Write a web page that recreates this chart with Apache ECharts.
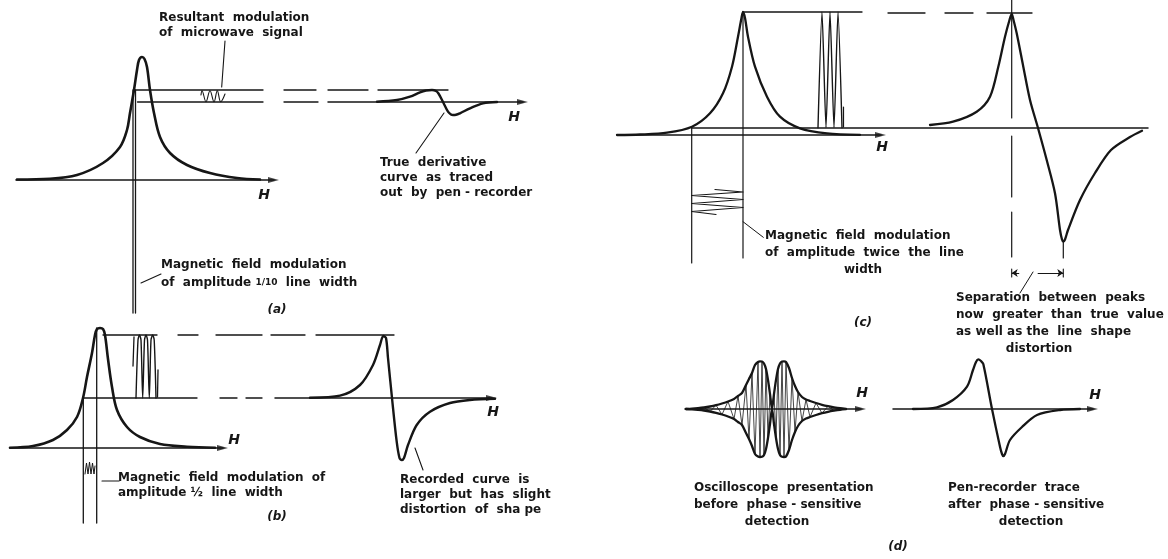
<!DOCTYPE html>
<html>
<head>
<meta charset="utf-8">
<script src="https://cdn.jsdelivr.net/npm/echarts@6/dist/echarts.min.js"></script>
<style>
  html, body { margin: 0; padding: 0; background: #fff; }
  #chart { width: 1168px; height: 559px; }
</style>
</head>
<body>
<div id="chart"></div>
<script>
// Units: field H and signal amplitude, both in arbitrary units; origin at line centre / baseline.

// ---------- (a) modulation amplitude 1/10 line width ----------
const axisA1 = [-12.6, 13.6];
const absA = [[-12.5,0.05],[-9.2,0.12],[-6.5,0.5],[-3.9,1.7],[-2.2,3.3],[-1.5,5.0],[-1.2,6.7],[-0.8,9.0],[-0.5,11.0],[-0.3,12.0],[0,12.3],[0.25,12.1],[0.5,11.3],[0.8,9.0],[1.2,6.7],[1.8,4.3],[2.8,2.7],[4.5,1.5],[6.8,0.7],[9.5,0.2],[11.8,0.05]];
const fieldA = [[-0.9, 9.0, -13.3], [-0.65, 9.0, -13.3]];          // [H, from, to]
const levelsA = [[9.0, -0.7, 12.1], [7.8, -0.45, 12.1]];            // [signal, H from, H to]
const ripplesA = [[5.9,8.5],[6.0,8.93],[6.4,7.83],[6.8,8.93],[7.2,7.83],[7.53,8.93],[7.87,7.83],[8.3,8.6]];
const resultantLeaderA = [[8.3,13.9],[7.97,9.3]];
const fieldLeaderA = [[-0.1,-10.3],[1.9,-9.4]];

const axisA2 = [-11.5, 8.4];
const derivA = [[-6.6,0.03],[-4.6,0.2],[-3.3,0.53],[-2.3,0.97],[-1.7,1.15],[-1.1,1.2],[-0.7,1.1],[-0.45,0.85],[0,0],[0.5,-0.97],[0.8,-1.25],[1.0,-1.3],[1.3,-1.28],[1.7,-1.13],[2.7,-0.63],[4.0,-0.13],[5.4,0]];
const levelA2 = 1.2;
const dashTopA = [[-15.9,-12.7],[-11.5,-7.5],[-6.5,0.5]];
const dashBaseA = [[-15.9,-12.5]];
const traceLeaderA = [[0.1,-1.1],[-2.7,-5.1]];

// ---------- (b) modulation amplitude 1/2 line width ----------
const axisB1 = [-9, 12.7];
const absB = [[-9,0.03],[-6.7,0.2],[-4.7,0.8],[-3.3,1.8],[-2.3,3.1],[-1.7,5.0],[-1.3,7.1],[-0.8,9.5],[-0.5,11.3],[-0.3,11.9],[0,12.0],[0.3,11.9],[0.5,11.3],[0.8,8.9],[1.2,6.1],[1.7,3.8],[2.7,2.1],[4.0,1.1],[6.0,0.4],[8.7,0.13],[11.5,0.02]];
const fieldB = [[-1.67, 5.0, -7.5], [-0.33, 12.0, -7.5]];
const levelsB = [[11.3, 0.3, 5.7], [5.0, -1.7, 9.7]];
const dashTopB = [[7.8,9.8],[11.6,16.2]];
const dashBaseB = [[12.0,13.7],[14.6,16.2]];
const loopsB = [[3.6,5.0],[3.8,10.8],[3.95,11.3],[4.1,10.8],[4.27,5.0],[4.45,10.8],[4.6,11.3],[4.75,10.8],[4.93,5.0],[5.1,10.8],[5.27,11.3],[5.42,10.8],[5.6,5.0]];
const loopStubsB = [[[3.3,8.2],[3.4,11.1]], [[5.75,5.1],[5.8,7.8]]];
const ripplesB = [[-1.5,-2.6],[-1.35,-1.5],[-1.2,-2.6],[-1.05,-1.4],[-0.9,-2.6],[-0.75,-1.5],[-0.6,-2.6],[-0.5,-1.8]];
const fieldLeaderB = [[0.2,-3.3],[1.9,-3.3]];

const axisB2 = [-11.7, 10.4];
const derivB = [[-8.2,0.03],[-5.2,0.23],[-3.2,1.3],[-1.9,3.3],[-1.2,5.3],[-0.87,6.2],[-0.6,6.0],[-0.4,4.0],[0,0],[0.47,-4.37],[0.75,-6.0],[0.97,-6.2],[1.2,-6.0],[1.6,-4.7],[2.47,-2.7],[3.8,-1.37],[5.8,-0.5],[7.8,-0.2],[10.3,-0.08]];
const levelB2 = 6.3;
const dashTopB2 = [[-12.1,-8.7],[-7.6,0.2]];
const recordedLeaderB = [[2.3,-5.0],[3.1,-7.2]];

// ---------- (c) modulation amplitude twice the line width ----------
const axisC1 = [-12.6, 14.2];
const absC = [[-12.6,0],[-10.3,0.05],[-7.6,0.23],[-5.1,0.83],[-3.3,2.17],[-2.0,4.17],[-1.1,6.83],[-0.5,9.83],[-0.15,11.7],[0,12.3],[0.2,11.7],[0.5,9.83],[1.2,6.83],[2.4,3.83],[3.7,1.83],[5.7,0.67],[8.4,0.17],[11.7,0.02]];
const fieldC = [[-5.13, 0.73, -12.8], [0, 12.3, -12.3]];
const levelsC = [[12.3, 0, 11.9]];
const sweepC = [[-2.8,-5.45],[0,-5.7],[-5.13,-6.05],[0,-6.45],[-5.13,-6.85],[0,-7.25],[-5.13,-7.65],[-2.7,-7.95]];
const loopsC = [[7.5,0.73],[7.9,12.3],[8.3,0.73],[8.7,12.3],[9.1,0.73],[9.5,12.3],[9.9,0.73]];
const loopStubC = [[10.05,2.8],[10.05,0.8]];
const fieldLeaderC = [[0,-8.67],[2.03,-10.23]];

const axisC2 = [-34.6, 11];
const derivC = [[-10.8,0.3],[-8.5,0.63],[-6.13,1.63],[-4.8,3.13],[-3.97,6.13],[-3.3,9.13],[-2.85,10.8],[-2.63,11.4],[-2.45,10.8],[-2.13,9.47],[-1.47,6.13],[-0.8,2.8],[0,0],[0.87,-3.2],[1.7,-6.53],[2.2,-10.2],[2.4,-11.15],[2.53,-11.37],[2.7,-11.15],[3.0,-10.2],[4.2,-7.2],[5.7,-4.5],[7.3,-2.2],[9.2,-0.9],[10.4,-0.27]];
const levelC2 = 11.5;
const dashTopC = [[-15,-11.3],[-9.3,-6.5],[-5.1,-0.6]];
const peakMarkC = [[-2.63,12.8,1.0],[-2.63,-0.8,-6.9],[-2.63,-8.4,-12.9]];
const troughMarkC = [[2.53,-11.37,-13.0]];
const separationC = [-2.63, 2.53, -14.5];     // [from H, to H, level]
const separationLeaderC = [[-0.5,-14.4],[-1.8,-16.5]];

// ---------- (d) oscilloscope and pen-recorder traces ----------
const axisD1 = [-8.7, 9.3];
const scopeH = [-8.6,-8,-7.4,-6.8,-6.2,-5.6,-5.0,-4.4,-3.8,-3.4,-3.0,-2.6,-2.3,-2.0,-1.7,-1.4,-1.2,-1.0,-0.8,-0.6,-0.4,-0.2,0,0.2,0.4,0.6,0.8,1.0,1.2,1.4,1.7,2.0,2.3,2.6,3.0,3.4,3.8,4.4,5.0,5.6,6.2,6.8,7.4];
const scopeTop = [0,0.03,0.08,0.15,0.25,0.38,0.55,0.75,1.0,1.3,1.6,2.4,3.0,3.6,4.4,4.7,4.77,4.75,4.55,4.0,2.9,1.5,0,1.5,2.9,4.0,4.55,4.75,4.77,4.7,4.1,3.1,2.3,1.7,1.2,0.95,0.8,0.6,0.42,0.28,0.17,0.08,0.02];
const scopeBottom = [0,-0.03,-0.08,-0.15,-0.25,-0.38,-0.55,-0.75,-1.0,-1.3,-1.6,-2.4,-3.0,-3.7,-4.5,-4.75,-4.8,-4.78,-4.6,-4.0,-2.9,-1.5,0,-1.5,-2.9,-4.0,-4.6,-4.78,-4.8,-4.75,-4.1,-3.1,-2.3,-1.7,-1.2,-0.95,-0.8,-0.6,-0.42,-0.28,-0.17,-0.08,-0.02];
const axisD2 = [-9.9, 10.5];
const penD = [[-7.9,0],[-5.5,0.17],[-3.9,0.9],[-2.5,2.23],[-1.9,3.9],[-1.6,4.7],[-1.37,4.97],[-1.1,4.8],[-0.87,4.5],[0,0],[0.8,-3.77],[1.0,-4.5],[1.13,-4.7],[1.3,-4.5],[1.8,-3.1],[3.0,-1.8],[4.5,-0.6],[6.8,-0.1],[8.8,0]];

// ---------- captions ----------
const notesA = ['Resultant  modulation', 'of  microwave  signal'];
const fieldNoteA = ['Magnetic  field  modulation', 'of  amplitude {f|1/10}  line  width'];
const traceNoteA = ['True  derivative', 'curve  as  traced', 'out  by  pen - recorder'];
const fieldNoteB = ['Magnetic  field  modulation  of', 'amplitude ½  line  width'];
const recordedNoteB = ['Recorded  curve  is', 'larger  but  has  slight', 'distortion  of  sha pe'];
const fieldNoteC = ['Magnetic  field  modulation', 'of  amplitude  twice  the  line', 'width'];
const separationNoteC = ['Separation  between  peaks', 'now  greater  than  true  value', 'as well as the  line  shape', 'distortion'];
const scopeNoteD = ['Oscilloscope  presentation', 'before  phase - sensitive', 'detection'];
const penNoteD = ['Pen-recorder  trace', 'after  phase - sensitive', 'detection'];
const panelTags = ['(a)', '(b)', '(c)', '(d)'];
const fieldSymbol = 'H';

// ---------- layout ----------
const INK = '#161616';
const FONT = '"DejaVu Sans", "Liberation Sans", sans-serif';
// one cartesian grid per trace, 10 px per unit on both axes
const PANES = [
  { left: 12,  top: 40,  xr: [-13, 13.6],   yr: [-13.5, 14] },   // 0 (a) absorption
  { left: 278, top: 82,  xr: [-16.5, 8.6],  yr: [-5.5, 2] },     // 1 (a) derivative
  { left: 5,   top: 326, xr: [-9.5, 16.5],  yr: [-7.8, 12.2] },  // 2 (b) absorption
  { left: 267, top: 333, xr: [-12.5, 10.6], yr: [-7.5, 6.5] },   // 3 (b) derivative
  { left: 613, top: 10,  xr: [-13, 14.5],   yr: [-13, 12.5] },   // 4 (c) absorption
  { left: 688, top: 0,   xr: [-35, 11.5],   yr: [-16.8, 12.8] }, // 5 (c) derivative
  { left: 682, top: 359, xr: [-9, 9.5],     yr: [-5, 5] },       // 6 (d) oscilloscope
  { left: 892, top: 359, xr: [-10, 10.6],   yr: [-5, 5] }        // 7 (d) pen recorder
];
const PX = 10;

const grid = PANES.map(p => ({
  left: p.left, top: p.top,
  width: (p.xr[1] - p.xr[0]) * PX, height: (p.yr[1] - p.yr[0]) * PX,
  containLabel: false, outerBoundsMode: 'none', show: false
}));
const xAxis = PANES.map((p, i) => ({
  type: 'value', gridIndex: i, min: p.xr[0], max: p.xr[1], show: false, splitLine: { show: false }
}));
const yAxis = PANES.map((p, i) => ({
  type: 'value', gridIndex: i, min: p.yr[0], max: p.yr[1], show: false, splitLine: { show: false }
}));

const series = [];
function path(g, pts, w, smooth) {
  series.push({
    type: 'line', xAxisIndex: g, yAxisIndex: g, data: pts,
    symbol: 'none', showSymbol: false, smooth: smooth || false,
    clip: false, silent: true, animation: false,
    lineStyle: { color: INK, width: w, cap: 'round', join: 'round' }
  });
}
function hseg(g, y, a, b, w) { path(g, [[a, y], [b, y]], w); }
function vseg(g, x, a, b, w) { path(g, [[x, a], [x, b]], w); }
function arrowSeg(g, from, to, w) {
  series.push({
    type: 'lines', coordinateSystem: 'cartesian2d', xAxisIndex: g, yAxisIndex: g,
    data: [{ coords: [from, to] }], symbol: ['none', 'arrow'], symbolSize: 6,
    silent: true, animation: false, lineStyle: { color: INK, width: w, opacity: 1 }
  });
}
// field axis: line along zero signal, with an arrowhead at the high-field end
function fieldAxis(g, ext, arrow) {
  hseg(g, 0, ext[0], arrow ? ext[1] - 0.4 : ext[1], 1.5);
  if (arrow) {
    series.push({
      type: 'scatter', xAxisIndex: g, yAxisIndex: g, data: [[ext[1] - 0.45, 0]],
      symbol: 'triangle', symbolSize: [6, 11], symbolRotate: -90,
      itemStyle: { color: INK }, silent: true, animation: false, clip: false
    });
  }
}

// (a)
fieldAxis(0, axisA1, true);
path(0, absA, 2.6, 0.35);
fieldA.forEach(([h, a, b]) => vseg(0, h, a, b, 1.3));
levelsA.forEach(([v, a, b]) => hseg(0, v, a, b, 1.3));
path(0, ripplesA, 1.1, 0.4);
path(0, resultantLeaderA, 1.1);
path(0, fieldLeaderA, 1.1);
fieldAxis(1, axisA2, true);
path(1, derivA, 2.4, 0.35);
dashTopA.forEach(([a, b]) => hseg(1, levelA2, a, b, 1.3));
dashBaseA.forEach(([a, b]) => hseg(1, 0, a, b, 1.3));
path(1, traceLeaderA, 1.1);

// (b)
fieldAxis(2, axisB1, true);
path(2, absB, 2.6, 0.35);
fieldB.forEach(([h, a, b]) => vseg(2, h, a, b, 1.3));
levelsB.forEach(([v, a, b]) => hseg(2, v, a, b, 1.3));
dashTopB.forEach(([a, b]) => hseg(2, levelsB[0][0], a, b, 1.3));
dashBaseB.forEach(([a, b]) => hseg(2, levelsB[1][0], a, b, 1.3));
path(2, loopsB, 1.4, 0.25);
loopStubsB.forEach(s => path(2, s, 1.3));
path(2, ripplesB, 1.0);
path(2, fieldLeaderB, 1.1);
fieldAxis(3, axisB2, true);
path(3, derivB, 2.4, 0.3);
dashTopB2.forEach(([a, b]) => hseg(3, levelB2, a, b, 1.3));
path(3, recordedLeaderB, 1.1);

// (c)
fieldAxis(4, axisC1, true);
path(4, absC, 2.3, 0.3);
fieldC.forEach(([h, a, b]) => vseg(4, h, a, b, 1.2));
levelsC.forEach(([v, a, b]) => hseg(4, v, a, b, 1.3));
path(4, sweepC, 1.2);
path(4, loopsC, 1.4, 0.2);
path(4, loopStubC, 1.2);
path(4, fieldLeaderC, 1.0);
fieldAxis(5, axisC2, false);
path(5, derivC, 2.3, 0.3);
dashTopC.forEach(([a, b]) => hseg(5, levelC2, a, b, 1.3));
peakMarkC.forEach(([h, a, b]) => vseg(5, h, a, b, 1.2));
troughMarkC.forEach(([h, a, b]) => vseg(5, h, a, b, 1.2));
(function () {
  const [a, b, y] = separationC;
  arrowSeg(5, [a + 0.75, y], [a, y], 1.1);
  arrowSeg(5, [a + 2.6, y], [b, y], 1.1);
  vseg(5, a, y + 0.4, y - 0.4, 1.1);
  vseg(5, b, y + 0.4, y - 0.4, 1.1);
})();
path(5, separationLeaderC, 1.0);

// (d)
fieldAxis(6, axisD1, true);
path(6, scopeH.map((h, i) => [h, scopeTop[i]]), 2.3, 0.3);
path(6, scopeH.map((h, i) => [h, scopeBottom[i]]), 2.3, 0.3);
path(6, scopeH.map((h, i) => [h, i % 2 ? scopeTop[i] : scopeBottom[i]]), 0.8);
fieldAxis(7, axisD2, true);
path(7, penD, 2.3, 0.3);

// ---------- text ----------
const graphic = [];
function note(lines, x, y0, step, align, rich) {
  lines.forEach((t, i) => graphic.push({
    type: 'text', x: x, y: y0 + i * step, silent: true,
    style: { text: t, font: 'bold 12px ' + FONT, fill: INK,
             textAlign: align || 'left', textVerticalAlign: 'middle', rich: rich }
  }));
}
function tag(t, x, y, size) {
  graphic.push({
    type: 'text', x: x, y: y, silent: true,
    style: { text: t, font: 'italic bold ' + (size || 13) + 'px ' + FONT, fill: INK,
             textAlign: 'center', textVerticalAlign: 'middle' }
  });
}
const fracRich = { f: { font: 'bold 9px ' + FONT, fill: INK } };

note(notesA, 159, 18, 15);
note(fieldNoteA, 161, 265, 18, 'left', fracRich);
note(traceNoteA, 380, 163, 15);
note(fieldNoteB, 118, 478, 15);
note(recordedNoteB, 400, 480, 15);
note(fieldNoteC.slice(0, 2), 765, 236, 17);
note(fieldNoteC.slice(2), 863, 270, 17, 'center');
note(separationNoteC.slice(0, 3), 956, 298, 17);
note(separationNoteC.slice(3), 1039, 349, 17, 'center');
note(scopeNoteD.slice(0, 2), 694, 488, 17);
note(scopeNoteD.slice(2), 777, 522, 17, 'center');
note(penNoteD.slice(0, 2), 948, 488, 17);
note(penNoteD.slice(2), 1031, 522, 17, 'center');

tag(panelTags[0], 277, 310, 12);
tag(panelTags[1], 277, 517, 12);
tag(panelTags[2], 863, 323, 12);
tag(panelTags[3], 898, 547, 12);
[[264, 195], [514, 117], [234, 440], [493, 412], [882, 147], [862, 393], [1095, 395]]
  .forEach(([x, y]) => tag(fieldSymbol, x, y, 14));

const chart = echarts.init(document.getElementById('chart'), null, { renderer: 'canvas' });
chart.setOption({
  backgroundColor: '#ffffff',
  animation: false,
  grid, xAxis, yAxis, series, graphic
});
</script>
</body>
</html>
